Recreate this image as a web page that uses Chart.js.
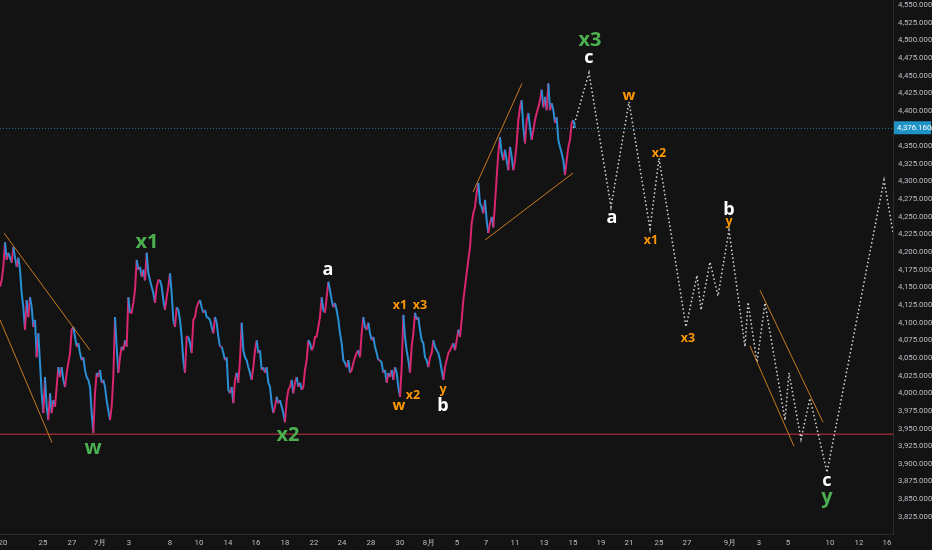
<!DOCTYPE html>
<html>
<head>
<meta charset="utf-8">
<script src="https://cdn.jsdelivr.net/npm/chart.js@4.4.0/dist/chart.umd.min.js"></script>
<style>
  html, body { margin: 0; padding: 0; background: #131313; }
  #wrap { width: 932px; height: 550px; }
</style>
</head>
<body>
<div id="wrap"><canvas id="waveChart"></canvas></div>
<script>
// price trace, one sample per time step
const closes = [
  4151,4160,4179,4214,4189,4199,4192,4185,4207,4193,
  4179,4192,4175,4142,4122,4090,4132,4108,4136,4122,
  4094,4104,4051,4085,4043,4000,3972,4023,3981,3962,
  4000,3972,3990,3981,4009,4037,4023,4037,4019,4009,
  4029,4043,4057,4090,4094,4080,4066,4071,4057,4047,
  4051,4033,4023,4019,4009,3972,3944,4000,4029,4023,
  4033,4015,4019,4009,3990,3976,3962,3981,4023,4108,
  4066,4029,4051,4066,4061,4075,4066,4136,4114,4114,
  4128,4146,4189,4175,4179,4165,4175,4160,4199,4170,
  4160,4151,4142,4128,4151,4160,4160,4151,4132,4118,
  4136,4151,4170,4142,4104,4094,4122,4118,4104,4080,
  4047,4029,4080,4080,4071,4057,4104,4108,4122,4128,
  4132,4122,4114,4118,4108,4107,4104,4094,4085,4108,
  4100,4080,4066,4066,4057,4047,4051,4005,
  4000,4009,3986,4019,4029,4015,
  4047,4100,4061,4051,4047,4037,4029,4019,4037,4061,
  4075,4057,4061,4033,4037,4029,4037,4015,4009,3986,
  3972,3981,3995,3986,3990,3981,3972,3959,3990,4005,
  4009,4019,4000,4015,4023,4009,4015,4005,4009,4033,
  4047,4075,4071,4061,4066,4080,4080,4094,4108,4136,
  4118,4114,4136,4158,4146,4132,4122,4128,4118,4104,
  4085,4071,4047,4043,4037,4047,4029,4033,4043,4051,
  4057,4061,4051,4085,4108,4094,4090,4100,4085,4075,
  4080,4066,4057,4047,4047,4043,4029,4033,4015,4029,
  4023,4033,4019,4037,4029,4009,3995,4037,4111,4080,
  4061,4047,4029,4066,4085,4114,4104,4108,4090,4075,
  4071,4051,4047,4037,4051,4057,4075,4066,4061,4057,
  4047,4033,4019,4037,4047,4057,4061,4066,4071,4061,
  4075,4090,4080,4104,4132,4151,4170,
  4189,4207,4241,4255,4264,4284,4298,4269,4264,4255,
  4274,4245,4227,4241,4250,4235,4269,4306,4340,4363,
  4340,4330,4345,4330,4316,4349,4335,4316,4330,4354,
  4387,4405,4415,4377,4354,4387,4397,4377,4359,4373,
  4387,4397,4405,4415,4430,4405,4420,4401,4439,4401,
  4411,4401,4383,4391,4359,4349,4340,4330,4309,4330,
  4349,4359,4383,4387,4376
];

// projected wave path (dotted)
const pathX = [344, 353.4, 366.6, 377.4, 390, 395.4, 411.6, 418.2, 420.6, 426, 430.8, 437.4,
               447, 448.8, 454.2, 459, 471, 473.4, 480.6, 486, 496.2, 530.4, 535.8];
const pathY = [4376, 4454, 4264, 4413, 4233, 4333, 4094, 4167, 4118, 4186, 4138, 4231,
               4066, 4129, 4044, 4128, 3962, 4029, 3935, 3993, 3888, 4302, 4228];

// trend lines [x0, p0, x1, p1]
const trendLines = [
  [2.4, 4227, 54, 4061],
  [0, 4104, 31.2, 3930],
  [283.8, 4285, 313.2, 4439],
  [291, 4217, 343.8, 4312],
  [450, 4067, 476.4, 3925],
  [456, 4146, 493.8, 3959]
];

const supportLevel = 3942;
const lastPrice = 4376.16;

// x axis
const tickAt = [1.8, 25.8, 43.2, 60, 77.4, 102, 119.4, 136.8, 153.6, 171, 188.4, 205.2, 222.6, 240,
                257.4, 274.2, 291.6, 309, 326.4, 343.8, 360.6, 377.4, 395.4, 412.2, 438, 455.4,
                472.8, 498, 515.4, 532.2];
const tickLabels = ['20', '25', '27', '7月', '3', '8', '10', '14', '16', '18', '22', '24', '28', '30',
                    '8月', '5', '7', '11', '13', '15', '19', '21', '25', '27', '9月', '3', '5', '10', '12', '16'];

// wave labels: text, x, price, kind
const waveLabels = [
  ['x1', 88.2, 4214, 'major'], ['w', 55.8, 3922, 'major'], ['x2', 172.8, 3941, 'major'],
  ['a', 196.8, 4175, 'white'],
  ['x1', 240, 4124, 'minor'], ['x3', 252, 4124, 'minor'], ['x2', 247.8, 3997, 'minor'],
  ['w', 239.4, 3982, 'minorBig'], ['y', 265.8, 4006, 'minor'], ['b', 265.8, 3982, 'white'],
  ['x3', 354, 4500, 'major'], ['c', 353.4, 4475, 'white'], ['a', 367.2, 4248, 'white'],
  ['w', 377.4, 4422, 'minorBig'], ['x2', 395.4, 4340, 'minor'], ['x1', 390.6, 4216, 'minor'],
  ['x3', 412.8, 4078, 'minor'], ['b', 437.4, 4260, 'white'], ['y', 437.4, 4243, 'minor'],
  ['c', 496.2, 3876, 'white'], ['y', 496.2, 3852, 'major']
];

const labelStyle = {
  major: { color: '#4caf50', font: 'bold 20px "Open Sans", sans-serif' },
  white: { color: '#ffffff', font: 'bold 18px "Open Sans", sans-serif' },
  minor: { color: '#ff9800', font: 'bold 12.5px "Open Sans", sans-serif' },
  minorBig: { color: '#ff9800', font: 'bold 15px "Open Sans", sans-serif' }
};

const fmt = v => v.toLocaleString('en-US', { minimumFractionDigits: 3, maximumFractionDigits: 3 });

const levelsPlugin = {
  id: 'levels',
  beforeDatasetsDraw(chart) {
    const { ctx, chartArea, scales } = chart;
    ctx.save();
    let y = scales.y.getPixelForValue(supportLevel);
    ctx.strokeStyle = '#8a2a30';
    ctx.lineWidth = 1.6;
    ctx.beginPath();
    ctx.moveTo(chartArea.left, y);
    ctx.lineTo(chartArea.right, y);
    ctx.stroke();

    y = Math.round(scales.y.getPixelForValue(lastPrice)) + 0.5;
    ctx.strokeStyle = '#1b7388';
    ctx.lineWidth = 1;
    ctx.setLineDash([1, 2]);
    ctx.beginPath();
    ctx.moveTo(chartArea.left, y);
    ctx.lineTo(chartArea.right, y);
    ctx.stroke();
    ctx.restore();
  },
  afterDraw(chart) {
    const { ctx, chartArea, scales } = chart;
    ctx.save();
    waveLabels.forEach(([text, x, p, kind]) => {
      const st = labelStyle[kind];
      ctx.fillStyle = st.color;
      ctx.font = st.font;
      ctx.textAlign = 'center';
      ctx.textBaseline = 'middle';
      ctx.fillText(text, scales.x.getPixelForValue(x), scales.y.getPixelForValue(p));
    });
    const y = scales.y.getPixelForValue(lastPrice);
    ctx.fillStyle = '#1f93c6';
    ctx.fillRect(chartArea.right + 1, y - 6.5, 37, 13);
    ctx.fillStyle = '#ffffff';
    ctx.font = '7.8px Roboto, sans-serif';
    ctx.textAlign = 'left';
    ctx.textBaseline = 'middle';
    ctx.fillText(fmt(lastPrice), chartArea.right + 4, y);
    ctx.restore();
  }
};

const bg = {
  id: 'bg',
  beforeDraw(chart) {
    const { ctx, width, height } = chart;
    ctx.save();
    ctx.fillStyle = '#131313';
    ctx.fillRect(0, 0, width, height);
    ctx.restore();
  }
};

const datasets = trendLines.map(t => ({
  data: [{ x: t[0], y: t[1] }, { x: t[2], y: t[3] }],
  borderColor: '#c87a1e',
  borderWidth: 1,
  pointRadius: 0
}));

datasets.push({
  data: closes.map((v, i) => ({ x: i, y: v })),
  borderWidth: 2,
  pointRadius: 0,
  segment: {
    borderColor: c => c.p1.parsed.y >= c.p0.parsed.y ? '#d8266f' : '#2a8fd4'
  }
});

datasets.push({
  data: pathX.map((x, i) => ({ x: x, y: pathY[i] })),
  borderColor: '#d8d8d8',
  borderWidth: 1.5,
  borderDash: [1.5, 2.5],
  pointRadius: 0
});

new Chart(document.getElementById('waveChart'), {
  type: 'line',
  data: { datasets: datasets },
  options: {
    responsive: true,
    maintainAspectRatio: false,
    animation: false,
    layout: { padding: 0 },
    plugins: { legend: { display: false }, tooltip: { enabled: false } },
    scales: {
      x: {
        type: 'linear',
        min: 0,
        max: 535.8,
        grid: { display: false, drawTicks: false },
        border: { color: '#2b2b2b' },
        afterBuildTicks: s => { s.ticks = tickAt.map(v => ({ value: v })); },
        afterFit: s => { s.height = 16; s.paddingLeft = 0; s.paddingRight = 0; },
        ticks: {
          autoSkip: false,
          maxRotation: 0,
          padding: 4,
          color: '#bcbfc6',
          font: { size: 7.8, family: 'Roboto' },
          callback: (v, i) => tickLabels[i]
        }
      },
      y: {
        type: 'linear',
        position: 'right',
        min: 3800.7,
        max: 4557.1,
        grid: { display: false, drawTicks: false },
        border: { color: '#2b2b2b' },
        afterBuildTicks: s => {
          const t = [];
          for (let v = 3825; v <= 4550; v += 25) t.push({ value: v });
          s.ticks = t;
        },
        afterFit: s => { s.width = 39; s.paddingTop = 0; s.paddingBottom = 0; },
        ticks: {
          padding: 5,
          color: '#bcbfc6',
          font: { size: 7.8, family: 'Roboto' },
          callback: v => fmt(v)
        }
      }
    }
  },
  plugins: [bg, levelsPlugin]
});
</script>
</body>
</html>
